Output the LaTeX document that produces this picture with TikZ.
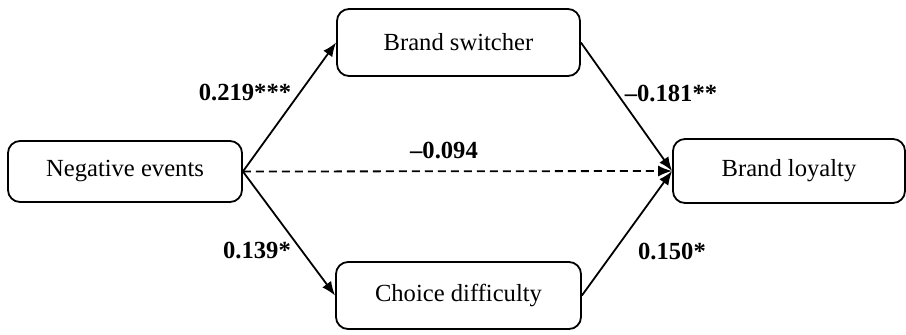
\documentclass[tikz,border=0pt]{standalone}
\usepackage{fontspec}
\setmainfont{Liberation Serif}
\usetikzlibrary{arrows.meta}
\tikzset{
  var/.style={
    draw,line width=0.9pt,rounded corners=6pt,
    minimum height=32pt,font=\fontsize{12.3}{14}\selectfont
  },
  path/.style={
    line width=0.9pt,-{Latex[length=7pt,width=5.5pt]}
  },
  coef/.style={
    font=\fontsize{12.3}{14}\selectfont\bfseries
  }
}
\begin{document}
\begin{tikzpicture}[x=0.5pt,y=-0.5pt]
\useasboundingbox (0,0) rectangle (906,334);
\node[var,minimum width=117pt,minimum height=30.5pt] (neg) at (125,171.5) {Negative events};
\node[var,minimum width=121.5pt,minimum height=33.5pt] (switch) at (458.5,42.5) {Brand switcher};
\node[var,minimum width=122.5pt,minimum height=33.5pt] (choice) at (458.5,295.5) {Choice difficulty};
\node[var,minimum width=116pt] (loyal) at (789,171) {Brand loyalty};
\draw[path] (neg.east) -- (switch.west);
\draw[path] (neg.east) -- (choice.west);
\draw[path] (switch.east) -- (loyal.west);
\draw[path] (choice.east) -- (loyal.west);
\draw[path,dash pattern=on 4pt off 2.5pt] (neg.east) -- (loyal.west);
\node[coef] (c1) at (245,92) {0.219***};
\node[coef] (c2) at (257,250) {0.139*};
\node[coef] (c3) at (671,93) {--0.181**};
\node[coef] (c4) at (672,251) {0.150*};
\node[coef] (c5) at (444,150) {--0.094};
\end{tikzpicture}
\end{document}
